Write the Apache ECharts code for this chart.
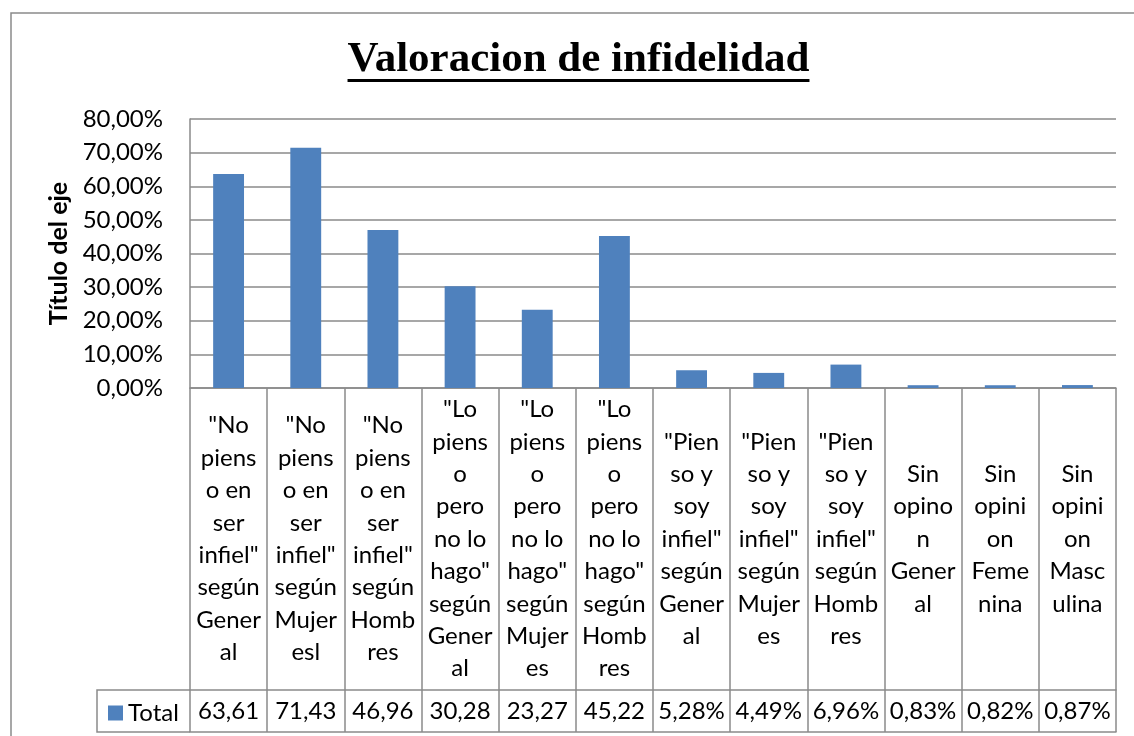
<!DOCTYPE html>
<html>
<head>
<meta charset="utf-8">
<script src="https://cdn.jsdelivr.net/npm/echarts@6/dist/echarts.min.js"></script>
<style>
html,body{margin:0;padding:0;background:#fff;}
#chart{width:1134px;height:736px;}
</style>
</head>
<body>
<div id="chart"></div>
<script>
// ---- data ----
var titleText = 'Valoracion de infidelidad';
var yAxisTitle = 'Título del eje';
var seriesName = 'Total';
var categories = [
  '"No\npiens\no en\nser\ninfiel"\nsegún\nGener\nal',
  '"No\npiens\no en\nser\ninfiel"\nsegún\nMujer\nesl',
  '"No\npiens\no en\nser\ninfiel"\nsegún\nHomb\nres',
  '"Lo\npiens\no\npero\nno lo\nhago"\nsegún\nGener\nal',
  '"Lo\npiens\no\npero\nno lo\nhago"\nsegún\nMujer\nes',
  '"Lo\npiens\no\npero\nno lo\nhago"\nsegún\nHomb\nres',
  '"Pien\nso y\nsoy\ninfiel"\nsegún\nGener\nal',
  '"Pien\nso y\nsoy\ninfiel"\nsegún\nMujer\nes',
  '"Pien\nso y\nsoy\ninfiel"\nsegún\nHomb\nres',
  'Sin\nopino\nn\nGener\nal',
  'Sin\nopini\non\nFeme\nnina',
  'Sin\nopini\non\nMasc\nulina'
];
var values = [63.61, 71.43, 46.96, 30.28, 23.27, 45.22, 5.28, 4.49, 6.96, 0.83, 0.82, 0.87];
var tableLabels = ['63,61', '71,43', '46,96', '30,28', '23,27', '45,22', '5,28%', '4,49%', '6,96%', '0,83%', '0,82%', '0,87%'];
var yMin = 0, yMax = 80, yStep = 10;

// ---- layout / style ----
var W = 1134, H = 736;
var gridLeft = 190, gridRight = 1116, gridTop = 119, gridBottom = 388;
var labelRowH = 302, valueRowH = 42;
var legendCellLeft = 97;
var lineColor = '#8a8a8a';
var barColor = '#4F81BD';
var font = 'Lato';
var fs = 24;
var titleFont = 'bold 43px "Liberation Serif"';
var titleCenterX = 578.5;

var cv = document.createElement('canvas').getContext('2d');
cv.font = titleFont;
var titleW = cv.measureText(titleText).width;

var chart = echarts.init(document.getElementById('chart'), null, {renderer: 'canvas'});
var tableBottom = gridBottom + labelRowH + valueRowH;

chart.setOption({
  animation: false,
  backgroundColor: '#fff',
  title: {
    text: titleText,
    left: titleCenterX - titleW / 2,
    top: 38,
    padding: 0,
    textStyle: {fontFamily: 'Liberation Serif', fontWeight: 'bold', fontSize: 43, color: '#000'}
  },
  legend: {
    data: [seriesName],
    left: 108,
    top: gridBottom + labelRowH + 11,
    padding: 0,
    icon: 'rect',
    itemWidth: 15,
    itemHeight: 15,
    textStyle: {fontFamily: font, fontSize: fs, color: '#000'}
  },
  grid: {left: gridLeft, right: W - gridRight, top: gridTop, bottom: H - gridBottom, containLabel: false},
  xAxis: [
    {
      type: 'category',
      data: categories,
      position: 'bottom',
      axisLine: {show: true, lineStyle: {color: lineColor, width: 1.5}},
      axisTick: {show: true, interval: 0, length: labelRowH + valueRowH, lineStyle: {color: lineColor, width: 1.5}},
      axisLabel: {
        interval: 0, margin: labelRowH / 2, verticalAlign: 'middle', align: 'center',
        fontFamily: font, fontSize: fs, lineHeight: 32.4, color: '#000'
      },
      splitLine: {show: false}
    },
    {
      type: 'category',
      data: tableLabels,
      position: 'bottom',
      offset: labelRowH,
      axisLine: {show: true, lineStyle: {color: lineColor, width: 1.5}},
      axisTick: {show: false},
      axisLabel: {
        interval: 0, margin: valueRowH / 2, verticalAlign: 'middle', align: 'center',
        fontFamily: font, fontSize: fs, color: '#000'
      }
    },
    {
      type: 'category',
      data: tableLabels,
      position: 'bottom',
      offset: labelRowH + valueRowH,
      axisLine: {show: true, lineStyle: {color: lineColor, width: 1.5}},
      axisTick: {show: false},
      axisLabel: {show: false}
    }
  ],
  yAxis: {
    type: 'value',
    min: yMin, max: yMax, interval: yStep,
    name: yAxisTitle,
    nameLocation: 'middle',
    nameGap: 117,
    nameRotate: 90,
    nameTextStyle: {fontFamily: font, fontWeight: 'bold', fontSize: 25, color: '#000'},
    axisLine: {show: true, lineStyle: {color: lineColor, width: 1.5}},
    axisTick: {show: false},
    splitLine: {show: true, lineStyle: {color: lineColor, width: 1.5}},
    axisLabel: {
      margin: 27, fontFamily: font, fontSize: fs, color: '#000',
      formatter: function (v) { return v.toFixed(2).replace('.', ',') + '%'; }
    }
  },
  series: [{
    name: seriesName,
    type: 'bar',
    xAxisIndex: 0,
    data: values,
    barWidth: '40%',
    itemStyle: {color: barColor}
  }],
  graphic: [
    {type: 'rect', silent: true, z: -10, shape: {x: 11, y: 13, width: W + 50, height: H + 50},
     style: {fill: 'none', stroke: lineColor, lineWidth: 1.5}},
    {type: 'polyline', silent: true,
     shape: {points: [[gridLeft, gridBottom + labelRowH], [legendCellLeft, gridBottom + labelRowH], [legendCellLeft, tableBottom], [gridLeft, tableBottom]]},
     style: {fill: 'none', stroke: lineColor, lineWidth: 1.5}},
    {type: 'line', silent: true,
     shape: {x1: titleCenterX - titleW / 2, y1: 80.5, x2: titleCenterX + titleW / 2, y2: 80.5},
     style: {stroke: '#000', lineWidth: 3}}
  ]
});
</script>
</body>
</html>
